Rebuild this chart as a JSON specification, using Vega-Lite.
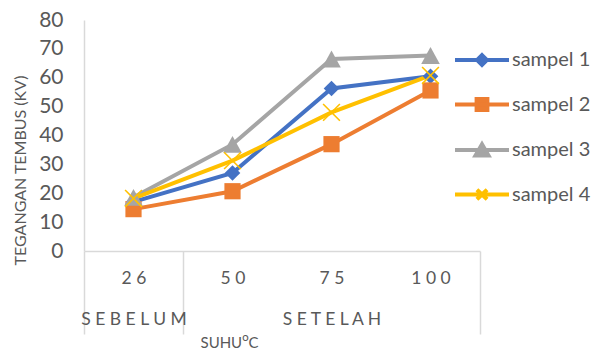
{
  "$schema": "https://vega.github.io/schema/vega-lite/v6.json",
  "autosize": {"type": "none"},
  "padding": {"left": 84, "top": 20, "right": 131, "bottom": 100},
  "width": 396,
  "height": 231,
  "background": "white",
  "config": {
    "view": {"stroke": null},
    "font": "Lato",
    "axis": {"grid": false, "titleFontWeight": "normal", "labelColor": "#595959", "titleColor": "#595959"}
  },
  "data": {
    "values": [
      {"suhu": 26, "sampel": "sampel 1", "tegangan": 17},
      {"suhu": 50, "sampel": "sampel 1", "tegangan": 27},
      {"suhu": 75, "sampel": "sampel 1", "tegangan": 56.3},
      {"suhu": 100, "sampel": "sampel 1", "tegangan": 60.5},
      {"suhu": 26, "sampel": "sampel 2", "tegangan": 14.5},
      {"suhu": 50, "sampel": "sampel 2", "tegangan": 20.7},
      {"suhu": 75, "sampel": "sampel 2", "tegangan": 37},
      {"suhu": 100, "sampel": "sampel 2", "tegangan": 55.6},
      {"suhu": 26, "sampel": "sampel 3", "tegangan": 18.6},
      {"suhu": 50, "sampel": "sampel 3", "tegangan": 36.9},
      {"suhu": 75, "sampel": "sampel 3", "tegangan": 66.5},
      {"suhu": 100, "sampel": "sampel 3", "tegangan": 67.7},
      {"suhu": 26, "sampel": "sampel 4", "tegangan": 18.2},
      {"suhu": 50, "sampel": "sampel 4", "tegangan": 31.3},
      {"suhu": 75, "sampel": "sampel 4", "tegangan": 48},
      {"suhu": 100, "sampel": "sampel 4", "tegangan": 60.8}
    ]
  },
  "encoding": {
    "x": {
      "field": "suhu",
      "type": "ordinal",
      "scale": {"type": "band", "paddingInner": 0, "paddingOuter": 0},
      "axis": {
        "title": "SUHUᴼC",
        "titleFontSize": 15,
        "titleAlign": "left",
        "titleBaseline": "middle",
        "titleX": 116,
        "titleY": 91,
        "labelAngle": 0,
        "labelFontSize": 17.5,
        "labelBaseline": "top",
        "labelLineHeight": 41,
        "labelPadding": -64.5,
        "labelExpr": "datum.value === 26 ? [join(split(datum.label, ''), ' '), 'S E B E L U M'] : datum.value === 75 ? [join(split(datum.label, ''), ' '), 'S E T E L A H'] : join(split(datum.label, ''), ' ')",
        "domainColor": "#d9d9d9",
        "domainWidth": 1.5,
        "tickBand": "extent",
        "tickSize": 83,
        "tickWidth": 1.5,
        "tickColor": {
          "condition": {"test": "datum.value === 50 || datum.value === 75", "value": "transparent"},
          "value": "#d9d9d9"
        }
      }
    },
    "y": {
      "field": "tegangan",
      "type": "quantitative",
      "scale": {"domain": [0, 80], "nice": false},
      "axis": {
        "title": "TEGANGAN TEMBUS (KV)",
        "titleFontSize": 16,
        "titleX": -64,
        "titleY": 150,
        "titleBaseline": "middle",
        "titleAlign": "center",
        "values": [0, 10, 20, 30, 40, 50, 60, 70, 80],
        "labelFontSize": 21,
        "labelPadding": 21,
        "ticks": false,
        "domainColor": "#d9d9d9",
        "domainWidth": 1.5
      }
    },
    "color": {
      "field": "sampel",
      "type": "nominal",
      "scale": {
        "domain": ["sampel 1", "sampel 2", "sampel 3", "sampel 4"],
        "range": ["#4472C4", "#ED7D31", "#A5A5A5", "#FFC000"]
      },
      "legend": {
        "title": null,
        "orient": "none",
        "legendX": 388,
        "legendY": 30,
        "padding": 0,
        "offset": 0,
        "symbolSize": 144,
        "symbolStrokeWidth": 4,
        "symbolOpacity": 1,
        "labelFontSize": 20,
        "labelColor": "#595959",
        "labelOffset": 20,
        "rowPadding": 17.5
      }
    }
  },
  "layer": [
    {
      "mark": {"type": "line", "strokeWidth": 4}
    },
    {
      "mark": {"type": "point", "filled": true, "size": 144, "opacity": 0},
      "encoding": {
        "shape": {
          "field": "sampel",
          "type": "nominal",
          "title": null,
          "scale": {
            "domain": ["sampel 1", "sampel 2", "sampel 3", "sampel 4"],
            "range": [
              "M-4.5,0H4.5M0,-0.82L0.82,0L0,0.82L-0.82,0Z",
              "M-4.5,0H4.5M-0.9,-0.9H0.9V0.9H-0.9Z",
              "M-4.5,0H4.5M0,-0.95L1.08,0.9L-1.08,0.9Z",
              "M-4.5,0H4.5M-0.85,-0.8L0.85,0.8M-0.85,0.8L0.85,-0.8"
            ]
          }
        }
      }
    },
    {
      "transform": [{"filter": "datum.sampel === 'sampel 1'"}],
      "mark": {"type": "point", "filled": true, "size": 144, "opacity": 1, "shape": "M0,-1.3L1.3,0L0,1.3L-1.3,0Z"}
    },
    {
      "transform": [{"filter": "datum.sampel === 'sampel 2'"}],
      "mark": {"type": "point", "filled": true, "size": 144, "opacity": 1, "shape": "M-1.35,-1.35H1.35V1.35H-1.35Z"}
    },
    {
      "transform": [{"filter": "datum.sampel === 'sampel 3'"}],
      "mark": {"type": "point", "filled": true, "size": 144, "opacity": 1, "shape": "M0,-1.4L1.55,1.4L-1.55,1.4Z"}
    },
    {
      "transform": [{"filter": "datum.sampel === 'sampel 4'"}],
      "mark": {"type": "point", "filled": false, "size": 144, "opacity": 1, "strokeWidth": 1.6, "shape": "M-1.4,-1.4L1.4,1.4M-1.4,1.4L1.4,-1.4"}
    }
  ]
}
